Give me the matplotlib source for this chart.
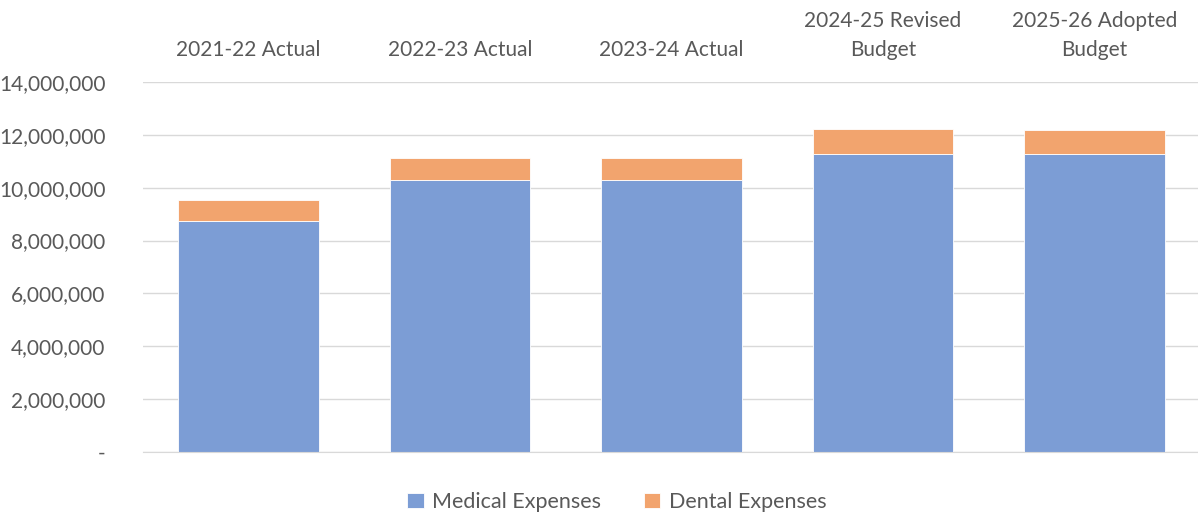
import matplotlib.pyplot as plt
from matplotlib.ticker import FuncFormatter
import numpy as np

plt.rcParams['font.family'] = ['Lato', 'DejaVu Sans']

# data
categories = ["2021-22 Actual", "2022-23 Actual", "2023-24 Actual",
              "2024-25 Revised\nBudget", "2025-26 Adopted\nBudget"]
medical = [8750000, 10300000, 10280000, 11290000, 11290000]
dental = [770000, 840000, 860000, 930000, 910000]

blue = "#7C9DD5"
orange = "#F2A46E"
text_col = "#595959"

fig = plt.figure(figsize=(11.98, 5.16), dpi=100)
ax = fig.add_axes([143 / 1198, 64 / 516, 1057 / 1198, 370 / 516])

x = np.arange(len(categories))
ax.bar(x, medical, width=0.665, color=blue, edgecolor="white", linewidth=0.6,
       label="Medical Expenses", zorder=2)
ax.bar(x, dental, width=0.665, bottom=medical, color=orange, edgecolor="white",
       linewidth=0.6, label="Dental Expenses", zorder=2)

ax.set_xlim(-0.5, len(categories) - 0.5)
ax.set_ylim(0, 14000000)
ax.set_yticks(np.arange(0, 14000001, 2000000))
ax.yaxis.set_major_formatter(FuncFormatter(lambda v, p: "-" if v == 0 else f"{v:,.0f}"))
ax.grid(axis="y", color="#D9D9D9", linewidth=1, zorder=0)

ax.xaxis.tick_top()
ax.set_xticks(x)
ax.set_xticklabels(categories, fontsize=15, color=text_col, linespacing=1.55)
ax.tick_params(axis="x", length=0, pad=16)
ax.tick_params(axis="y", length=0, labelsize=15, labelcolor=text_col, pad=27)

for s in ["top", "right", "left"]:
    ax.spines[s].set_visible(False)
ax.spines["bottom"].set_color("#D9D9D9")

fig.legend(loc="center", bbox_to_anchor=(0.515, 0.027), ncol=2, frameon=False,
           fontsize=15.5, labelcolor=text_col, handlelength=0.75, handleheight=0.75,
           handletextpad=0.4, columnspacing=2.0)

fig.savefig("out.png", dpi=100)
